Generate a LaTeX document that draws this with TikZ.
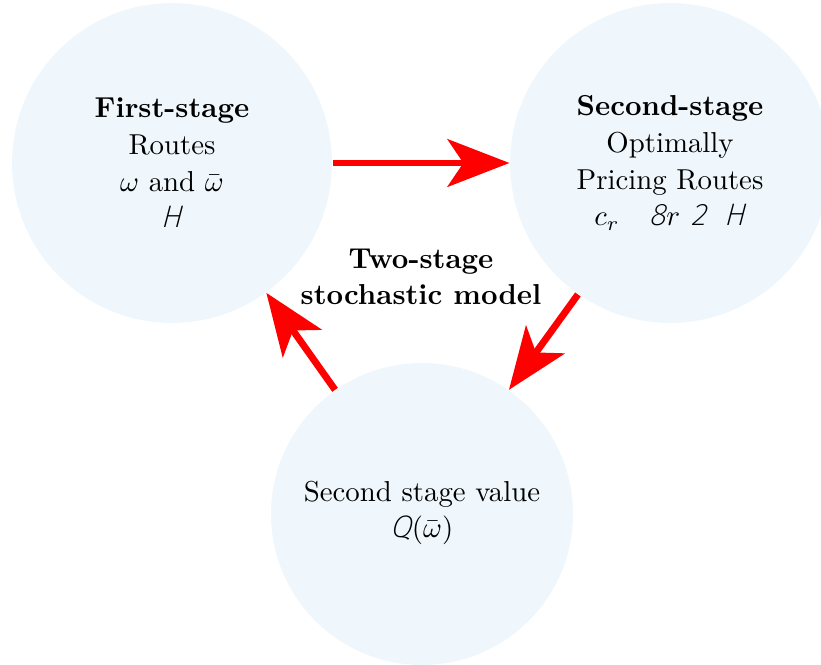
\documentclass[tikz,border=0pt]{standalone}
\usepackage{fontspec}
\usetikzlibrary{arrows.meta}
\newfontfamily\thinsans{Fira Sans ExtraLight}[
  ItalicFont={Fira Sans ExtraLight Italic},
  ItalicFeatures={FakeSlant=0.12}, Scale=1.08]
\newcommand{\thinsym}[1]{{\thinsans\itshape #1}}
\definecolor{bubblecol}{RGB}{239,247,252}
\begin{document}
\begin{tikzpicture}[x=0.347pt,y=-0.347pt,
  bubble/.style={circle, fill=bubblecol, draw=none, inner sep=0pt},
  txt/.style={align=center, inner sep=0pt, font=\fontsize{10}{12.7}\selectfont},
  flow/.style={draw=red, line width=2.4pt,
    -{Stealth[length=21.5pt,width=16.5pt,inset=5.5pt]}}]
\useasboundingbox (0,0) rectangle (821,665);
\clip (0,0) rectangle (821,665);
% the three stages
\node[bubble, minimum size=111pt] (first) at (172,163) {};
\node[bubble, minimum size=111pt] (second) at (670,163) {};
\node[bubble, minimum size=104.8pt] (value) at (422,514) {};
% their texts
\node[txt] (firsttxt) at (172,163)
  {\textbf{First-stage}\\Routes\\$\omega$ and $\bar\omega$\\\thinsym{H}};
\node[txt] (secondtxt) at (670,163)
  {\textbf{Second-stage}\\Optimally\\Pricing Routes\\
   $c_r$\hspace{10.5pt}\thinsym{8}$r$\hspace{4pt}\thinsym{2}\hspace{6.4pt}\thinsym{H}};
\node[txt] (valuetxt) at (422,513)
  {Second stage value\\\thinsym{Q}$(\bar\omega)$};
\node[txt] (model) at (421,277)
  {\textbf{Two-stage}\\\textbf{stochastic model}};
% the cycle between the stages
\draw[flow] (first.east) -- (second.west);
\draw[flow] (second.235) -- (value.55);
\draw[flow] (value.125) -- (first.-54);
\end{tikzpicture}
\end{document}
